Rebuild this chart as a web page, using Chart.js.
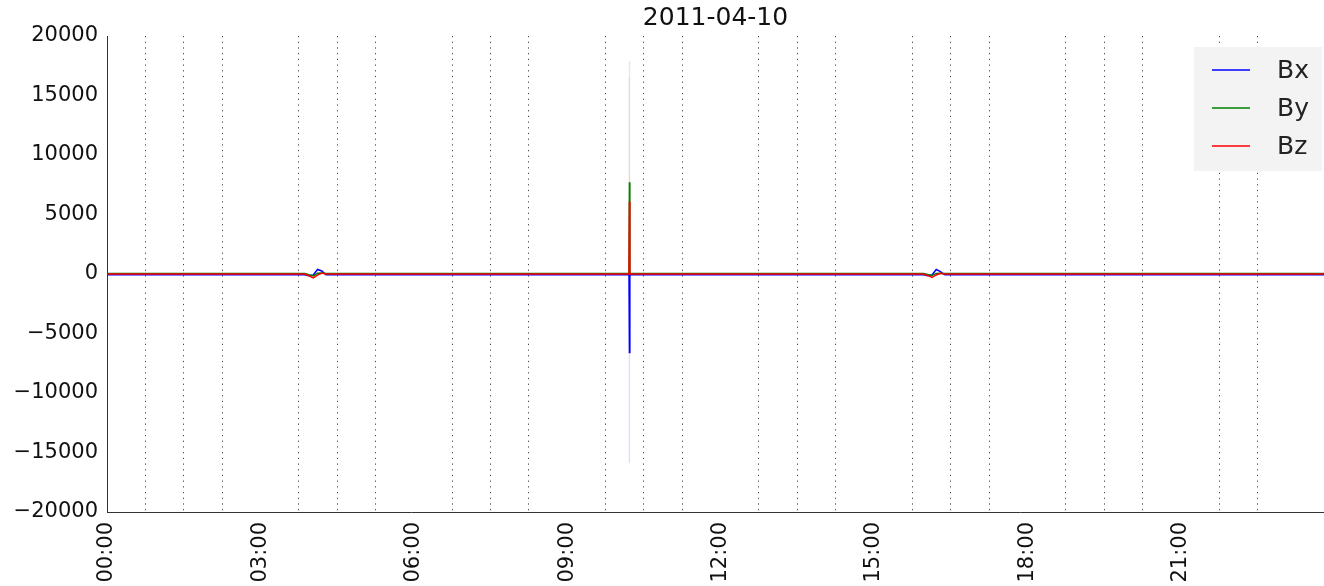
<!DOCTYPE html>
<html>
<head>
<meta charset="utf-8">
<script src="https://cdn.jsdelivr.net/npm/chart.js@4/dist/chart.umd.min.js"></script>
<style>
  html, body { margin: 0; padding: 0; background: #fff; }
  #wrap { width: 1324px; height: 586px; position: relative; }
</style>
</head>
<body>
<div id="wrap"><canvas id="chart"></canvas></div>
<script>
// --- data (minutes since midnight, nT) ---
const titleText = "2011-04-10";
const seriesNames = ["Bx", "By", "Bz"];
const times = [0, 232, 237, 242, 247, 252, 257, 262, 612.5, 613, 613.5, 958, 963, 968, 973, 978, 983, 1428];
const bx = [-70, -70, -150, -90, 380, 250, -70, -70, -70, -6600, -70, -70, -150, -80, 380, 200, -70, -70];
const by = [50, 50, -60, -160, 60, 90, 50, 50, 50, 7700, 50, 50, -40, -130, 50, 70, 50, 50];
const bz = [-10, -10, -150, -330, -100, 80, -10, -10, -10, 6100, -10, -10, -120, -280, -80, 60, -10, -10];

// faint tips of the spike (single sample, thinner than a pixel)
const spikeTime = 613;
const bxTip = [-6600, -15900];
const byTip = [7700, 17900];
const bzTip = [6100, 16500];

const yTicks = [-20000, -15000, -10000, -5000, 0, 5000, 10000, 15000, 20000];
const xMax = 1428;
const lastMinor = 1350; // dotted lines stop at 22:30

const colors = ["#0000ff", "#008000", "#ff0000"];
const faint = ["rgba(0,0,255,0.13)", "rgba(0,128,0,0.12)", "rgba(255,0,0,0.08)"];

function toPoints(vals) {
    return times.map((t, i) => ({ x: t, y: vals[i] }));
}
function tipPoints(vals) {
    return vals.map(v => ({ x: spikeTime, y: v }));
}
function hhmm(m) {
    const h = Math.floor(m / 60), mm = Math.round(m % 60);
    return String(h).padStart(2, "0") + ":" + String(mm).padStart(2, "0");
}

const FONT = "'DejaVu Sans', sans-serif";

// legend drawn as a pale box inside the axes, top right
const boxLegend = {
    id: "boxLegend",
    afterDraw(chart) {
        const ctx = chart.ctx;
        const area = chart.chartArea;
        const w = 128, h = 124;
        const left = area.right - w - 2, top = area.top + 11;
        ctx.save();
        ctx.fillStyle = "#f3f3f3";
        ctx.fillRect(left, top, w, h);
        ctx.font = "25px " + FONT;
        ctx.textBaseline = "middle";
        seriesNames.forEach((name, i) => {
            const y = top + 23 + i * 38;
            ctx.strokeStyle = colors[i];
            ctx.lineWidth = 1.5;
            ctx.beginPath();
            ctx.moveTo(left + 18, y);
            ctx.lineTo(left + 56, y);
            ctx.stroke();
            ctx.fillStyle = "#222";
            ctx.fillText(name, left + 83, y + 1);
        });
        ctx.restore();
    }
};

const datasets = [
    { label: "Bx", data: toPoints(bx), borderColor: colors[0], order: 3 },
    { label: "By", data: toPoints(by), borderColor: colors[1], order: 2 },
    { label: "Bz", data: toPoints(bz), borderColor: colors[2], order: 1 },
    { label: "", data: tipPoints(bxTip), borderColor: faint[0], order: 6 },
    { label: "", data: tipPoints(byTip), borderColor: faint[1], order: 5 },
    { label: "", data: tipPoints(bzTip), borderColor: faint[2], order: 4 }
].map(d => Object.assign(d, { borderWidth: 1.5, pointRadius: 0, tension: 0, fill: false }));

new Chart(document.getElementById("chart"), {
    type: "line",
    data: { datasets },
    options: {
        responsive: true,
        maintainAspectRatio: false,
        animation: false,
        layout: { padding: 0 },
        plugins: {
            legend: { display: false },
            tooltip: { enabled: false },
            title: {
                display: true,
                text: titleText,
                fullSize: false,
                color: "#111",
                font: { family: FONT, size: 25, weight: "normal", lineHeight: 1.2 },
                padding: { top: 3, bottom: 3 }
            }
        },
        scales: {
            x: {
                type: "linear",
                min: 0,
                max: xMax,
                afterFit(scale) {
                    scale.height = 74;
                    scale.paddingLeft = 0;
                    scale.paddingRight = 0;
                },
                afterBuildTicks(scale) {
                    const ticks = [];
                    for (let v = 0; v <= lastMinor; v += 45) ticks.push({ value: v });
                    scale.ticks = ticks;
                },
                ticks: {
                    autoSkip: false,
                    maxRotation: 90,
                    minRotation: 90,
                    padding: 10,
                    color: "#111",
                    font: { family: FONT, size: 21 },
                    callback: v => (v % 180 === 0 ? hhmm(v) : "")
                },
                grid: {
                    drawTicks: false,
                    lineWidth: 1,
                    color: c => (c.tick && c.tick.value % 180 !== 0 ? "#444" : "rgba(0,0,0,0)")
                },
                border: { display: true, color: "#333", width: 1, dash: [1.2, 4.5] }
            },
            y: {
                min: -20000,
                max: 20000,
                afterFit(scale) { scale.width = 107; },
                afterBuildTicks(scale) { scale.ticks = yTicks.map(v => ({ value: v })); },
                ticks: {
                    padding: 9,
                    color: "#111",
                    font: { family: FONT, size: 21 },
                    callback: v => String(v).replace("-", "\u2212")
                },
                grid: { display: false, drawTicks: false },
                border: { display: true, color: "#333", width: 1 }
            }
        }
    },
    plugins: [boxLegend]
});
</script>
</body>
</html>
